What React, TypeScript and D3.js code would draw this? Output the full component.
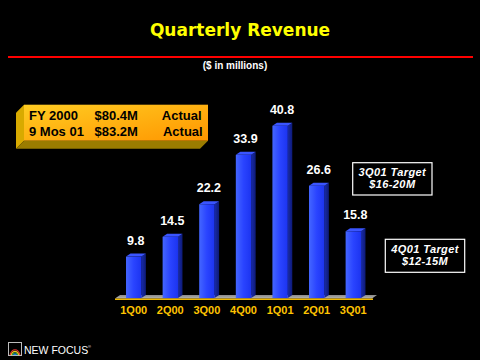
import React from "react";
import * as d3 from "d3";

const categories = ["1Q00", "2Q00", "3Q00", "4Q00", "1Q01", "2Q01", "3Q01"];
const revenue = [9.8, 14.5, 22.2, 33.9, 40.8, 26.6, 15.8];
const valueLabels = ["9.8", "14.5", "22.2", "33.9", "40.8", "26.6", "15.8"];
const legendRows = [
  ["FY 2000", "$80.4M", "Actual"],
  ["9 Mos 01", "$83.2M", "Actual"],
];
const targetNotes = [
  ["3Q01 Target", "$16-20M"],
  ["4Q01 Target", "$12-15M"],
];

const W = 480;
const H = 360;

export default function App() {
  const x = d3
    .scaleBand<string>()
    .domain(categories)
    .range([115.4, 371.6])
    .paddingInner(0.58)
    .paddingOuter(0.29);
  const y = d3.scaleLinear().domain([0, 45]).range([298, 108]);
  const bw = x.bandwidth();
  const dx = 4.5;
  const dy = -3;
  const base = y(0);

  const sans = "'Liberation Sans', Arial, sans-serif";

  return (
    <svg
      width={W}
      height={H}
      viewBox={`0 0 ${W} ${H}`}
      style={{ position: "absolute", left: 0, top: 0, background: "#000", display: "block" }}
    >
      <defs>
        <linearGradient id="barFront" x1="0" x2="1" y1="0" y2="0">
          <stop offset="0" stopColor="#4466ff" />
          <stop offset="0.5" stopColor="#2a44ff" />
          <stop offset="1" stopColor="#1c34f0" />
        </linearGradient>
        <linearGradient id="barSide" x1="0" x2="1" y1="0" y2="0">
          <stop offset="0" stopColor="#1a2ca8" />
          <stop offset="1" stopColor="#0d1a78" />
        </linearGradient>
        <linearGradient id="legendFront" x1="0" x2="1" y1="0" y2="1">
          <stop offset="0" stopColor="#ffcc22" />
          <stop offset="1" stopColor="#ff9600" />
        </linearGradient>
        <linearGradient id="floorGrad" x1="0" x2="0" y1="0" y2="1">
          <stop offset="0" stopColor="#8a8a8a" />
          <stop offset="1" stopColor="#b4b4b4" />
        </linearGradient>
      </defs>
      <rect x={0} y={0} width={W} height={H} fill="#000" />

      {/* Title */}
      <text
        x={240}
        y={36}
        textAnchor="middle"
        fill="#ffff00"
        fontFamily="'DejaVu Sans', Verdana, sans-serif"
        fontWeight="bold"
        fontSize={17}
      >
        Quarterly Revenue
      </text>
      <line x1={8} x2={473} y1={57} y2={57} stroke="#ff0000" strokeWidth={2} />
      <text
        x={235}
        y={69}
        textAnchor="middle"
        fill="#fff"
        fontFamily={sans}
        fontWeight="bold"
        fontSize={10}
      >
        ($ in millions)
      </text>

      {/* Legend box */}
      <g>
        <polygon points="24,104.7 16,112.7 16,148.7 24,140.7" fill="#d8aa00" />
        <polygon points="16,148.7 24,140.7 208,140.7 200,148.7" fill="#9a7c00" />
        <rect x={24} y={104.7} width={184} height={36} fill="url(#legendFront)" />
        {legendRows.map((r, i) => (
          <g key={i} fontFamily={sans} fontWeight="bold" fontSize={13} fill="#000">
            <text x={29} y={119.7 + i * 16}>{r[0]}</text>
            <text x={94.5} y={119.7 + i * 16}>{r[1]}</text>
            <text x={201.5 + i * 1.2} y={119.7 + i * 16} textAnchor="end">{r[2]}</text>
          </g>
        ))}
      </g>

      {/* Floor */}
      <polygon
        points={`115,${base + 0.5} 372,${base + 0.5} 377,${base - 3} 120,${base - 3}`}
        fill="url(#floorGrad)"
      />
      <line x1={115} x2={373} y1={base + 1.2} y2={base + 1.2} stroke="#f0b800" strokeWidth={1.5} />

      {/* Bars */}
      {categories.map((c, i) => {
        const x0 = x(c) as number;
        const yt = y(revenue[i]);
        return (
          <g key={c}>
            <polygon
              points={`${x0 + bw},${yt} ${x0 + bw + dx},${yt + dy} ${x0 + bw + dx},${base + dy} ${x0 + bw},${base}`}
              fill="url(#barSide)"
            />
            <polygon
              points={`${x0},${yt} ${x0 + dx},${yt + dy} ${x0 + bw + dx},${yt + dy} ${x0 + bw},${yt}`}
              fill="#3a55ff"
            />
            <rect x={x0} y={yt} width={bw} height={base - yt} fill="url(#barFront)" />
            <text
              x={x0 + bw / 2 + 2}
              y={yt - 12}
              textAnchor="middle"
              fill="#fff"
              fontFamily={sans}
              fontWeight="bold"
              fontSize={12.5}
            >
              {valueLabels[i]}
            </text>
            <text
              x={x0 + bw / 2}
              y={314}
              textAnchor="middle"
              fill="#ffc400"
              fontFamily={sans}
              fontWeight="bold"
              fontSize={11}
            >
              {c}
            </text>
          </g>
        );
      })}

      {/* Target notes */}
      {[
        { bx: 352.7, by: 162.7, w: 79.3, h: 32.3 },
        { bx: 385.3, by: 239.3, w: 79.4, h: 33 },
      ].map((b, i) => (
        <g key={i}>
          <rect x={b.bx} y={b.by} width={b.w} height={b.h} fill="#000" stroke="#fff" strokeWidth={1.2} />
          <text
            x={b.bx + b.w / 2}
            y={b.by + 13.3}
            textAnchor="middle"
            fill="#fff"
            fontFamily={sans}
            fontWeight="bold"
            fontStyle="italic"
            fontSize={11}
            letterSpacing={0.4}
          >
            {targetNotes[i][0]}
          </text>
          <text
            x={b.bx + b.w / 2}
            y={b.by + 25.2}
            textAnchor="middle"
            fill="#fff"
            fontFamily={sans}
            fontWeight="bold"
            fontStyle="italic"
            fontSize={11}
            letterSpacing={0.4}
          >
            {targetNotes[i][1]}
          </text>
        </g>
      ))}

      {/* Logo */}
      <g>
        <rect x={8.5} y={342.5} width={13} height={13} fill="none" stroke="#bbb" strokeWidth={1} />
        {["#e03030", "#f0c020", "#30b040", "#2080e0"].map((col, i) => (
          <path
            key={col}
            d={`M ${10 + i * 1.2} 355 A ${5.5 - i * 1.1} ${9 - i * 1.6} 0 0 1 ${20 - i * 1.2} 355`}
            fill="none"
            stroke={col}
            strokeWidth={1.2}
          />
        ))}
        <text x={24} y={354} fill="#fff" fontFamily={sans} fontSize={10.5}>
          NEW FOCUS
        </text>
        <text x={88} y={348} fill="#fff" fontFamily={sans} fontSize={4}>
          ®
        </text>
      </g>
    </svg>
  );
}
